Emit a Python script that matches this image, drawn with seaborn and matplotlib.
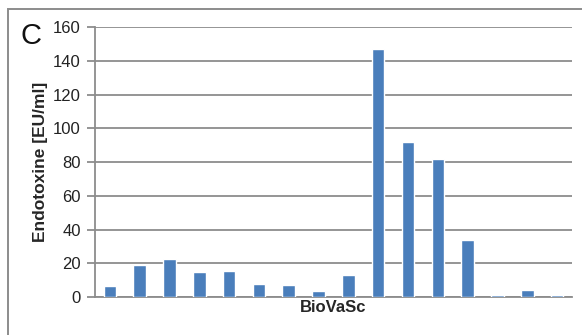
import matplotlib
matplotlib.use("Agg")
import matplotlib.pyplot as plt
import pandas as pd
import seaborn as sns
from matplotlib.patches import Rectangle

samples = [f"S{i}" for i in range(1, 17)]
endotoxin = [6.5, 19, 22.8, 14.8, 15.4, 7.9, 7.4, 3.4, 13.4, 147, 91.8, 81.8, 33.8, 1.1, 4.4, 1.1]

df = pd.DataFrame({"sample": samples, "value": endotoxin})

sns.set_theme(style="white")
plt.rcParams["font.family"] = ["Liberation Sans", "DejaVu Sans"]

fig = plt.figure(figsize=(5.82, 3.35), dpi=100)
ax = fig.add_axes([0.163, 0.113, 0.82, 0.806])

sns.barplot(data=df, x="sample", y="value", color="#4a7ebb", width=0.42,
            saturation=1, ax=ax, zorder=3)

ax.set_ylim(0, 160)
ax.set_yticks(range(0, 161, 20))
ax.set_xlim(-0.5, len(samples) - 0.5)
ax.yaxis.grid(True, color="#8c8c8c", linewidth=1.3)
ax.set_axisbelow(True)
ax.set_xticks([])
for s in ("top", "right"):
    ax.spines[s].set_visible(False)
for s in ("left", "bottom"):
    ax.spines[s].set_color("#8c8c8c")
    ax.spines[s].set_linewidth(1.3)
ax.tick_params(axis="y", length=6, width=1.3, color="#8c8c8c", labelsize=12,
               labelcolor="#222222", pad=4, left=True)
ax.set_ylabel("Endotoxine [EU/ml]", fontsize=12.5, fontweight="bold", labelpad=4)
ax.set_xlabel("BioVaSc", fontsize=12, fontweight="bold", labelpad=2)

fig.text(0.035, 0.87, "C", fontsize=21, color="#111111")
fig.patches.append(Rectangle((8 / 582, -0.05), 1.0, 0.05 + 1 - 8.5 / 335,
                             transform=fig.transFigure, fill=False,
                             edgecolor="#8c8c8c", linewidth=1.4))

fig.savefig("out.png", dpi=100)
